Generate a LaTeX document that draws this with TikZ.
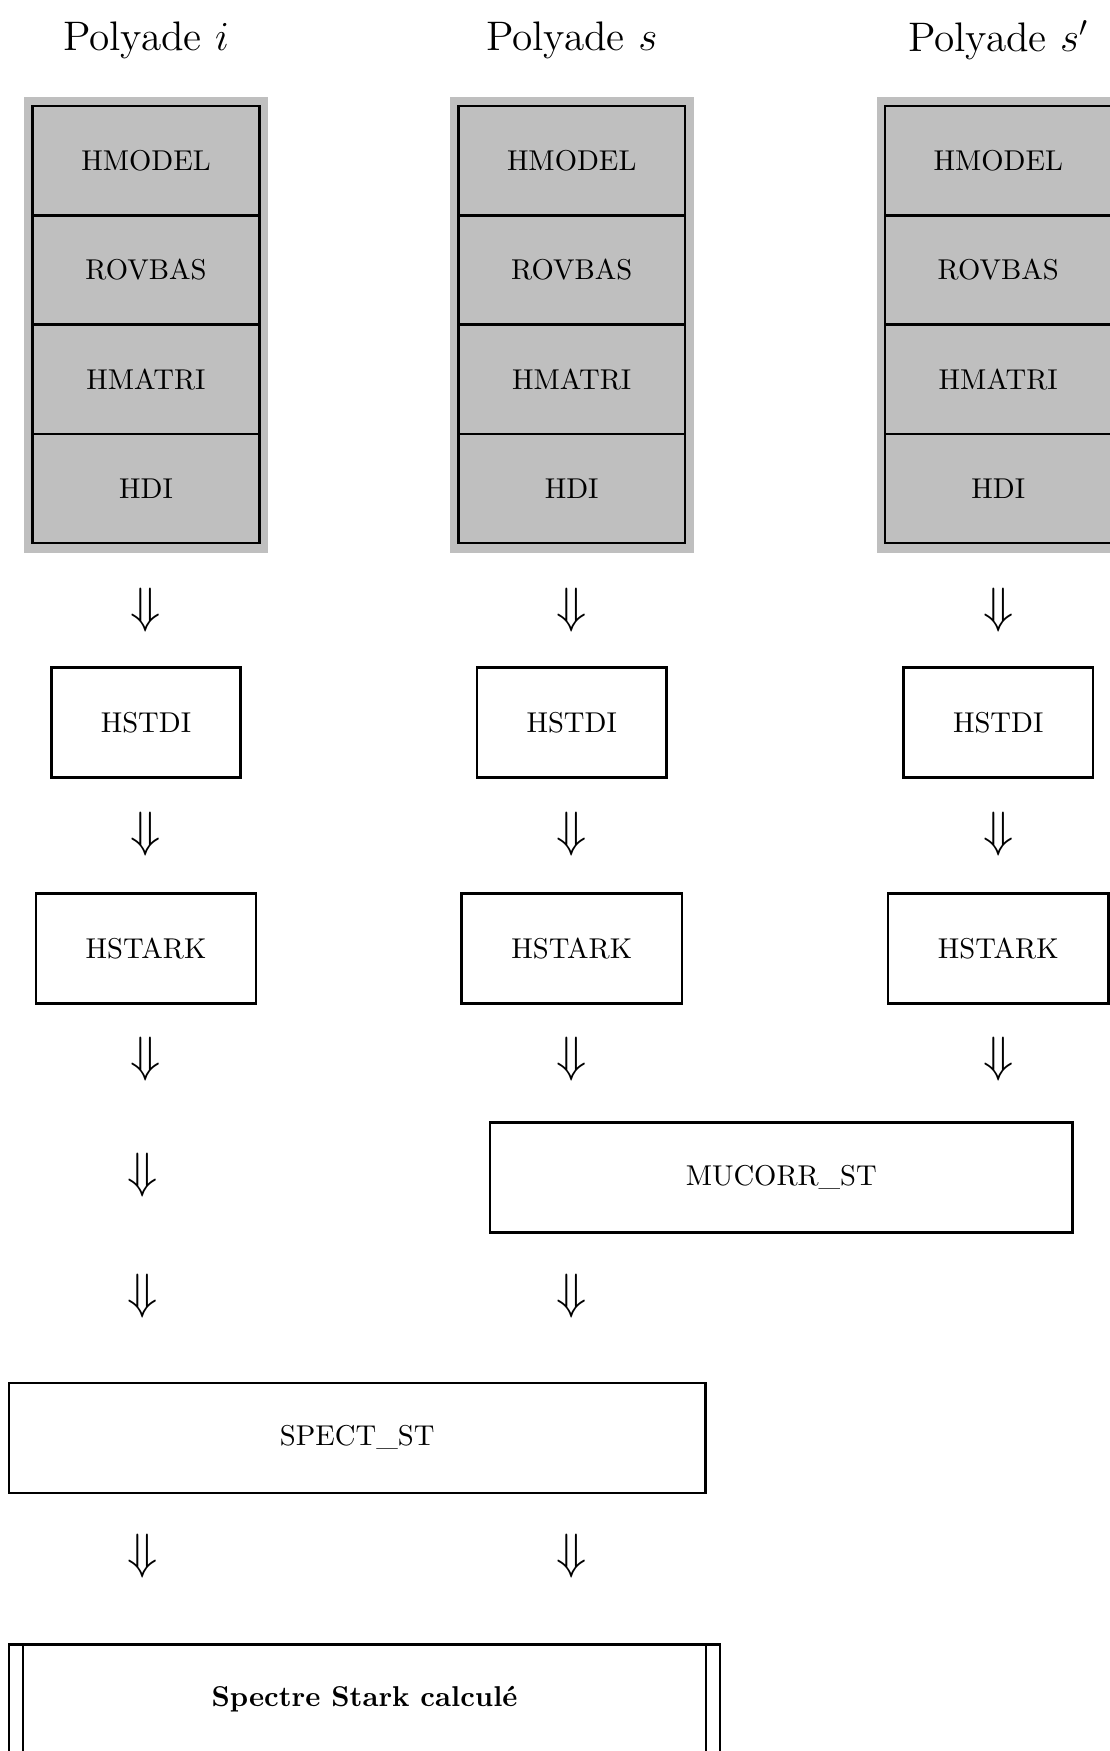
\documentclass[tikz,border=0pt]{standalone}
\usepackage{amssymb}
\usepackage{amsmath}
\usetikzlibrary{positioning}

\tikzset{
  cellule/.style={draw, fill=black!25, line width=0.9pt, outer sep=0pt,
    minimum width=2.78cm, minimum height=1.34cm, inner sep=0pt},
  boite/.style={draw, line width=0.9pt, minimum height=1.35cm, inner sep=0pt},
  fleche/.style={inner sep=0pt, font=\LARGE},
  titre/.style={font=\Large, inner sep=0pt},
}

\begin{document}
\begin{tikzpicture}
      \useasboundingbox (0,0) rectangle (13.6,-21.47);

      % titres des colonnes
      \node[titre] (titreI) at (1.79,-0.49) {Polyade $i$};
      \node[titre] (titreS) at (7.01,-0.49) {Polyade $s$};
      \node[titre] (titreSp) at (12.24,-0.49) {Polyade $s'$};

      % fonds gris
      \fill[black!25] (0.30,-1.19) rectangle (3.29,-6.78);
      \fill[black!25] (5.52,-1.19) rectangle (8.51,-6.78);
      \fill[black!25] (10.75,-1.19) rectangle (13.74,-6.78);

      % piles polyade i
      \node[cellule] (hmodelI) at (1.79,-1.97) {HMODEL};
      \node[cellule, below=0pt of hmodelI] (rovbasI) {ROVBAS};
      \node[cellule, below=0pt of rovbasI] (hmatriI) {HMATRI};
      \node[cellule, below=0pt of hmatriI] (hdiI) {HDI};

      % piles polyade s
      \node[cellule] (hmodelS) at (7.01,-1.97) {HMODEL};
      \node[cellule, below=0pt of hmodelS] (rovbasS) {ROVBAS};
      \node[cellule, below=0pt of rovbasS] (hmatriS) {HMATRI};
      \node[cellule, below=0pt of hmatriS] (hdiS) {HDI};

      % piles polyade s'
      \node[cellule] (hmodelSp) at (12.24,-1.97) {HMODEL};
      \node[cellule, below=0pt of hmodelSp] (rovbasSp) {ROVBAS};
      \node[cellule, below=0pt of rovbasSp] (hmatriSp) {HMATRI};
      \node[cellule, below=0pt of hmatriSp] (hdiSp) {HDI};

      % fleches
      \node[fleche] (f1I) at (1.79,-7.48) {$\Downarrow$};
      \node[fleche] (f1S) at (7.01,-7.48) {$\Downarrow$};
      \node[fleche] (f1Sp) at (12.24,-7.48) {$\Downarrow$};

      % HSTDI
      \node[boite, minimum width=2.32cm] (hstdiI) at (1.79,-8.86) {HSTDI};
      \node[boite, minimum width=2.32cm] (hstdiS) at (7.01,-8.86) {HSTDI};
      \node[boite, minimum width=2.32cm] (hstdiSp) at (12.24,-8.86) {HSTDI};

      \node[fleche] (f2I) at (1.79,-10.23) {$\Downarrow$};
      \node[fleche] (f2S) at (7.01,-10.23) {$\Downarrow$};
      \node[fleche] (f2Sp) at (12.24,-10.23) {$\Downarrow$};

      % HSTARK
      \node[boite, minimum width=2.70cm] (hstarkI) at (1.79,-11.63) {HSTARK};
      \node[boite, minimum width=2.70cm] (hstarkS) at (7.01,-11.63) {HSTARK};
      \node[boite, minimum width=2.70cm] (hstarkSp) at (12.24,-11.63) {HSTARK};

      \node[fleche] (f3I) at (1.79,-12.99) {$\Downarrow$};
      \node[fleche] (f3S) at (7.01,-12.99) {$\Downarrow$};
      \node[fleche] (f3Sp) at (12.24,-12.99) {$\Downarrow$};

      % MUCORR_ST
      \node[fleche] (f4I) at (1.75,-14.41) {$\Downarrow$};
      \node[boite, minimum width=7.14cm] (mucorr) at (9.58,-14.44) {MUCORR\_ST};

      \node[fleche] (f5I) at (1.75,-15.89) {$\Downarrow$};
      \node[fleche] (f5S) at (7.01,-15.89) {$\Downarrow$};

      % SPECT_ST
      \node[boite, minimum width=8.54cm] (spect) at (4.38,-17.63) {SPECT\_ST};

      \node[fleche] (f6I) at (1.75,-19.08) {$\Downarrow$};
      \node[fleche] (f6S) at (7.01,-19.08) {$\Downarrow$};

      % resultat
      \node[boite, minimum width=8.72cm] (fin) at (4.47,-20.84) {\textbf{Spectre Stark calcul\'e}};
      \draw[line width=0.9pt] ([xshift=0.19cm]fin.north west) -- ([xshift=0.19cm]fin.south west);
      \draw[line width=0.9pt] ([xshift=-0.19cm]fin.north east) -- ([xshift=-0.19cm]fin.south east);
\end{tikzpicture}
\end{document}
